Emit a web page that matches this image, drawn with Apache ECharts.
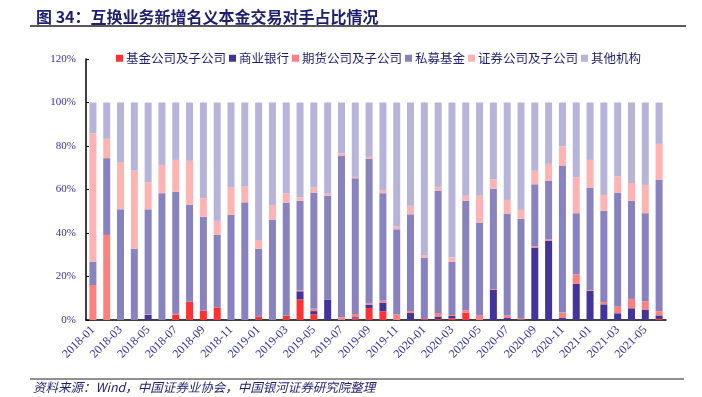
<!DOCTYPE html>
<html>
<head>
<meta charset="utf-8">
<script src="https://cdn.jsdelivr.net/npm/echarts@6/dist/echarts.min.js"></script>
<style>
  html, body { margin: 0; padding: 0; background: #fff; }
  #chart { width: 702px; height: 397px; }
</style>
</head>
<body>
<div id="chart"></div>
<script>
// 互换业务新增名义本金交易对手占比（%）
const months = [
  '2018-01', '2018-02', '2018-03', '2018-04', '2018-05', '2018-06', '2018-07', '2018-08', '2018-09', '2018-10', '2018-11', '2018-12',
  '2019-01', '2019-02', '2019-03', '2019-04', '2019-05', '2019-06', '2019-07', '2019-08', '2019-09', '2019-10', '2019-11', '2019-12',
  '2020-01', '2020-02', '2020-03', '2020-04', '2020-05', '2020-06', '2020-07', '2020-08', '2020-09', '2020-10', '2020-11', '2020-12',
  '2021-01', '2021-02', '2021-03', '2021-04', '2021-05', '2021-06'
]

const fundCo = [
  0, 0, 0, 0, 0, 0, 2.3, 8.4, 4.3, 5.8, 0, 0,
  1.5, 0, 2.0, 9.5, 2.6, 0, 0, 0.7, 5.5, 4.0, 0, 0,
  0.5, 0.4, 0.8, 3.4, 0, 0, 0, 0.3, 0, 0, 0, 0,
  0, 0, 0, 0, 0, 0.5
]
const banks = [
  0, 0, 0, 0, 2.4, 0, 0, 0, 0, 0, 0, 0,
  0, 0, 0, 3.7, 1.5, 9.3, 0, 0.6, 1.5, 4.0, 0, 3.2,
  0, 1.2, 1.1, 0, 0, 13.8, 0.9, 0, 33.3, 36.4, 0.9, 16.6,
  13.5, 7.2, 3.1, 5.4, 4.6, 1.6
]
const futuresCo = [
  16.1, 39.1, 0, 0, 0.3, 0, 0.5, 0, 0, 0, 0, 0,
  0, 0, 0, 0.4, 1.1, 0, 1.1, 1.5, 0.7, 0.9, 2.6, 0.9,
  0, 1.6, 0.4, 1.1, 2.0, 0.4, 1.2, 0.3, 0.6, 0.7, 2.5, 4.4,
  0.3, 1.1, 3.0, 4.3, 4.0, 2.0
]
const privateFund = [
  10.7, 35.3, 50.9, 32.8, 48.2, 58.3, 56.2, 44.5, 43.2, 33.3, 48.3, 54.1,
  31.2, 46.0, 52.0, 41.2, 53.4, 47.8, 74.5, 62.4, 66.4, 49.4, 39.1, 44.5,
  28.2, 56.3, 24.5, 50.3, 42.8, 46.1, 46.7, 45.9, 28.5, 26.9, 67.6, 28.1,
  47.1, 41.9, 52.5, 45.1, 40.5, 60.3
]
const securitiesCo = [
  59.1, 8.9, 21.7, 35.9, 12.5, 13.0, 14.6, 20.3, 8.5, 6.5, 12.6, 7.2,
  4.1, 6.9, 4.3, 1.5, 2.3, 0.9, 1.1, 0.6, 0.9, 1.5, 1.2, 3.9,
  1.2, 1.7, 1.9, 2.3, 12.4, 4.4, 6.4, 4.1, 6.2, 7.8, 8.8, 16.6,
  12.7, 7.3, 7.4, 8.2, 13.0, 16.6
]
const others = [
  14.1, 16.7, 27.4, 31.3, 36.6, 28.7, 26.4, 26.8, 44.0, 54.4, 39.1, 38.7,
  63.2, 47.1, 41.7, 43.7, 39.1, 42.0, 23.3, 34.2, 25.0, 40.2, 57.1, 47.5,
  70.1, 38.8, 71.3, 42.9, 42.8, 35.3, 44.8, 49.4, 31.4, 28.2, 20.2, 34.3,
  26.4, 42.5, 34.0, 37.0, 37.9, 19.0
]

const seriesNames = ['基金公司及子公司', '商业银行', '期货公司及子公司', '私募基金', '证券公司及子公司', '其他机构']
const seriesData = [fundCo, banks, futuresCo, privateFund, securitiesCo, others]
const colors = ['#FF3333', '#443399', '#FF8080', '#8882BE', '#FFB3B3', '#B8B3D9']

const navy = '#1F1F70'
const axisBlue = '#3333A0'

const chart = echarts.init(document.getElementById('chart'), null, { renderer: 'canvas' })

chart.setOption({
  animation: false,
  color: colors,
  title: {
    text: '图 34：互换业务新增名义本金交易对手占比情况',
    left: 31,
    top: 4,
    textStyle: {
      fontFamily: 'Noto Sans CJK SC',
      fontSize: 16,
      fontWeight: 'bold',
      color: navy
    }
  },
  legend: {
    left: 111,
    top: 47,
    itemWidth: 7,
    itemHeight: 7,
    itemGap: 3,
    icon: 'rect',
    textStyle: {
      fontFamily: 'Noto Sans CJK SC',
      fontSize: 12.5,
      color: navy,
      padding: [0, 0, 0, -2]
    },
    data: seriesNames
  },
  grid: {
    left: 86,
    right: 36,
    top: 59,
    bottom: 77
  },
  xAxis: {
    type: 'category',
    data: months,
    boundaryGap: true,
    axisLine: { lineStyle: { color: '#000', width: 1.5 } },
    axisTick: { interval: 1, inside: true, length: 3, lineStyle: { color: '#000' } },
    axisLabel: {
      interval: 1,
      rotate: 45,
      margin: 8,
      fontFamily: 'Liberation Serif',
      fontSize: 12,
      color: axisBlue
    },
    splitLine: { show: false }
  },
  yAxis: {
    type: 'value',
    min: 0,
    max: 120,
    interval: 20,
    axisLine: { show: true, lineStyle: { color: '#000', width: 1.5 } },
    axisTick: { show: true, inside: true, length: 3, lineStyle: { color: '#000' } },
    axisLabel: {
      formatter: '{value}%',
      margin: 10,
      fontFamily: 'Liberation Serif',
      fontSize: 11,
      color: axisBlue
    },
    splitLine: { show: false }
  },
  series: seriesNames.map((name, i) => ({
    name: name,
    type: 'bar',
    stack: 'total',
    barWidth: 7,
    data: seriesData[i],
    itemStyle: { color: colors[i] }
  })),
  graphic: [
    {
      type: 'line',
      shape: { x1: 30, y1: 26, x2: 686, y2: 26 },
      style: { stroke: '#222', lineWidth: 1.5 }
    },
    {
      type: 'line',
      shape: { x1: 30, y1: 379, x2: 684, y2: 379 },
      style: { stroke: '#222', lineWidth: 1 }
    },
    {
      type: 'text',
      left: 33,
      top: 381,
      style: {
        text: '资料来源：Wind，中国证券业协会，中国银河证券研究院整理',
        fontFamily: 'Noto Sans CJK SC',
        fontSize: 12.5,
        fontStyle: 'italic',
        fill: navy
      }
    }
  ]
})
</script>
</body>
</html>
